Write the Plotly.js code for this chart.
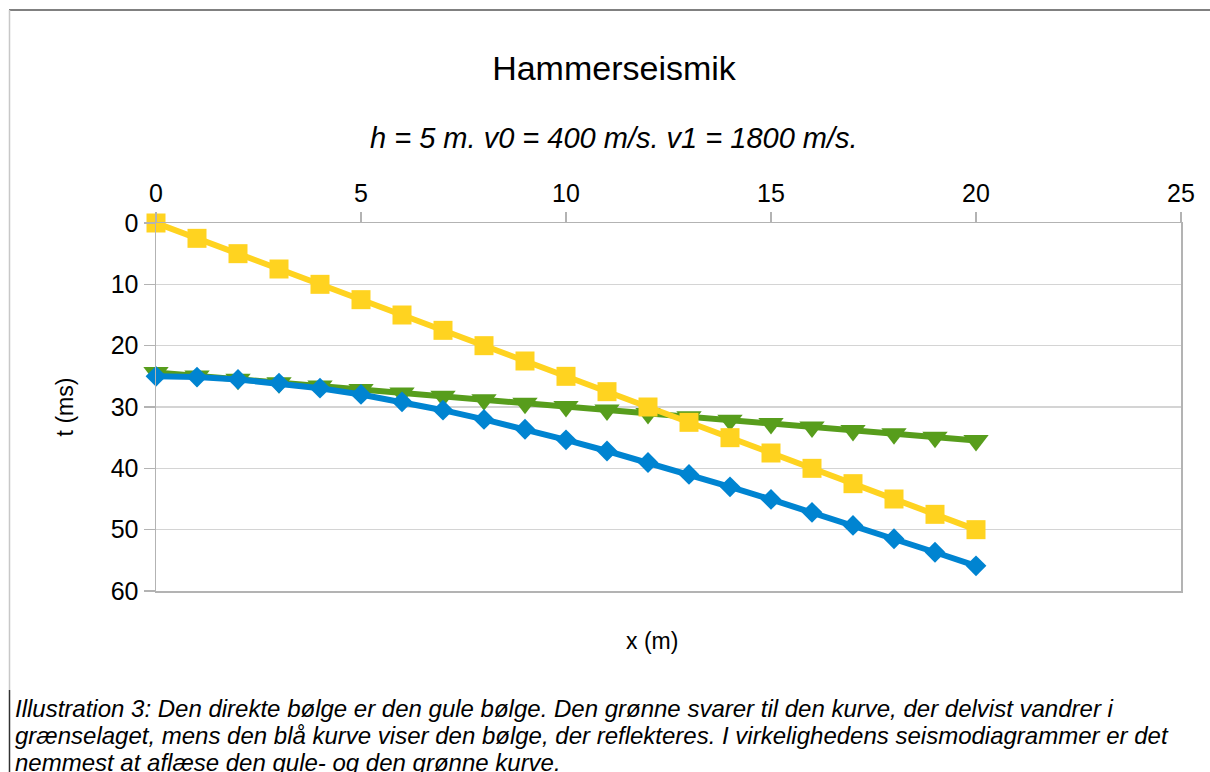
<!DOCTYPE html>
<html>
<head>
<meta charset="utf-8">
<script src="https://cdn.plot.ly/plotly-3.0.1.min.js"></script>
<style>
html,body{margin:0;padding:0;background:#fff;}
#chart{width:1210px;height:772px;}
</style>
</head>
<body>
<div id="chart"></div>
<script>
// x (m)
const xValues = [0,1,2,3,4,5,6,7,8,9,10,11,12,13,14,15,16,17,18,19,20];
// direct wave (yellow), t in ms
const directT = [0,2.5,5,7.5,10,12.5,15,17.5,20,22.5,25,27.5,30,32.5,35,37.5,40,42.5,45,47.5,50];
// refracted wave (green), t in ms
const refractedT = [24.37,24.93,25.48,26.04,26.59,27.15,27.71,28.26,28.82,29.37,29.93,30.48,31.04,31.59,32.15,32.71,33.26,33.82,34.37,34.93,35.48];
// reflected wave (blue), t in ms
const reflectedT = [25.00,25.12,25.50,26.10,26.93,27.95,29.15,30.52,32.02,33.63,35.36,37.17,39.05,41.00,43.01,45.07,47.17,49.31,51.48,53.68,55.90];

const xTicks = [0,5,10,15,20,25];
const yTicks = [0,10,20,30,40,50,60];

const titleText = "Hammerseismik";
const subtitleText = "h = 5 m. v0 = 400 m/s. v1 = 1800 m/s.";
const xTitle = "x (m)";
const yTitle = "t (ms)";
const captionLines = [
  "Illustration 3: Den direkte bølge er den gule bølge. Den grønne svarer til den kurve, der delvist vandrer i",
  "grænselaget, mens den blå kurve viser den bølge, der reflekteres. I virkelighedens seismodiagrammer er det",
  "nemmest at aflæse den gule- og den grønne kurve."
];

const W = 1210, H = 772;
const L = 156, R = 1181, T = 223, B = 591;
const px2x = p => (p - L) / (R - L);
const px2y = p => (B - p) / (B - T);

const FONT = "Liberation Sans, Arial, sans-serif";

const traces = [
  {x: xValues, y: refractedT, type: 'scatter', mode: 'lines+markers', name: 'refracted', cliponaxis: false,
   line: {color: '#579d1c', width: 6}, marker: {symbol: 'triangle-down', size: 22, color: '#579d1c'}},
  {x: xValues, y: reflectedT, type: 'scatter', mode: 'lines+markers', name: 'reflected', cliponaxis: false,
   line: {color: '#0084d1', width: 6}, marker: {symbol: 'diamond', size: 16, color: '#0084d1'}},
  {x: xValues, y: directT, type: 'scatter', mode: 'lines+markers', name: 'direct', cliponaxis: false,
   line: {color: '#ffd320', width: 6}, marker: {symbol: 'square', size: 19, color: '#ffd320'}}
];

const annotations = [
  {text: subtitleText, xref: 'paper', yref: 'paper', x: px2x(614), y: px2y(138),
   xanchor: 'center', yanchor: 'middle', showarrow: false,
   font: {family: FONT, size: 29, color: '#000', style: 'italic'}},
  {text: xTitle, xref: 'paper', yref: 'paper', x: px2x(652), y: px2y(641),
   xanchor: 'center', yanchor: 'middle', showarrow: false,
   font: {family: FONT, size: 23, color: '#000'}}
];
captionLines.forEach((t, i) => {
  annotations.push({text: t, xref: 'paper', yref: 'paper', x: px2x(13), y: px2y(708 + i * 27),
    xanchor: 'left', yanchor: 'middle', showarrow: false, align: 'left',
    font: {family: FONT, size: 24, color: '#000', style: 'italic'}});
});

const shapes = [
  {type: 'line', xref: 'paper', yref: 'paper', x0: px2x(9), x1: px2x(1212), y0: px2y(10), y1: px2y(10),
   line: {color: '#808080', width: 2}},
  {type: 'line', xref: 'paper', yref: 'paper', x0: px2x(9.5), x1: px2x(9.5), y0: px2y(10), y1: px2y(690),
   line: {color: '#c8c8c8', width: 1.5}},
  {type: 'line', xref: 'paper', yref: 'paper', x0: px2x(9.5), x1: px2x(9.5), y0: px2y(690), y1: px2y(775),
   line: {color: '#333333', width: 1.5}}
];

const layout = {
  width: W, height: H,
  paper_bgcolor: '#fff', plot_bgcolor: '#fff',
  margin: {l: L, r: W - R, t: T, b: H - B, pad: 0},
  showlegend: false,
  font: {family: FONT, color: '#000'},
  title: {text: titleText, x: 614 / W, xanchor: 'center', y: 1 - 68 / H, yanchor: 'middle',
          xref: 'container', yref: 'container', font: {family: FONT, size: 34, color: '#000'}},
  xaxis: {side: 'top', range: [0, 25], tickvals: xTicks, ticktext: xTicks.map(String),
          showgrid: false, zeroline: false, showline: true, mirror: true, linecolor: '#b3b3b3', linewidth: 1.5,
          ticks: 'outside', ticklen: 10, tickcolor: '#b3b3b3', tickwidth: 1.5,
          tickfont: {family: FONT, size: 25, color: '#000'}, fixedrange: true},
  yaxis: {range: [60, 0], tickvals: yTicks, ticktext: yTicks.map(String),
          showgrid: true, gridcolor: '#d4d4d4', gridwidth: 1.5, zeroline: false,
          showline: true, mirror: true, linecolor: '#b3b3b3', linewidth: 1.5,
          ticks: 'outside', ticklen: 11, tickcolor: '#b3b3b3', tickwidth: 1.5,
          tickfont: {family: FONT, size: 25, color: '#000'},
          title: {text: yTitle, standoff: 30, font: {family: FONT, size: 23, color: '#000'}},
          automargin: false, fixedrange: true},
  annotations: annotations,
  shapes: shapes
};

Plotly.newPlot('chart', traces, layout, {displayModeBar: false, staticPlot: true});
</script>
</body>
</html>
